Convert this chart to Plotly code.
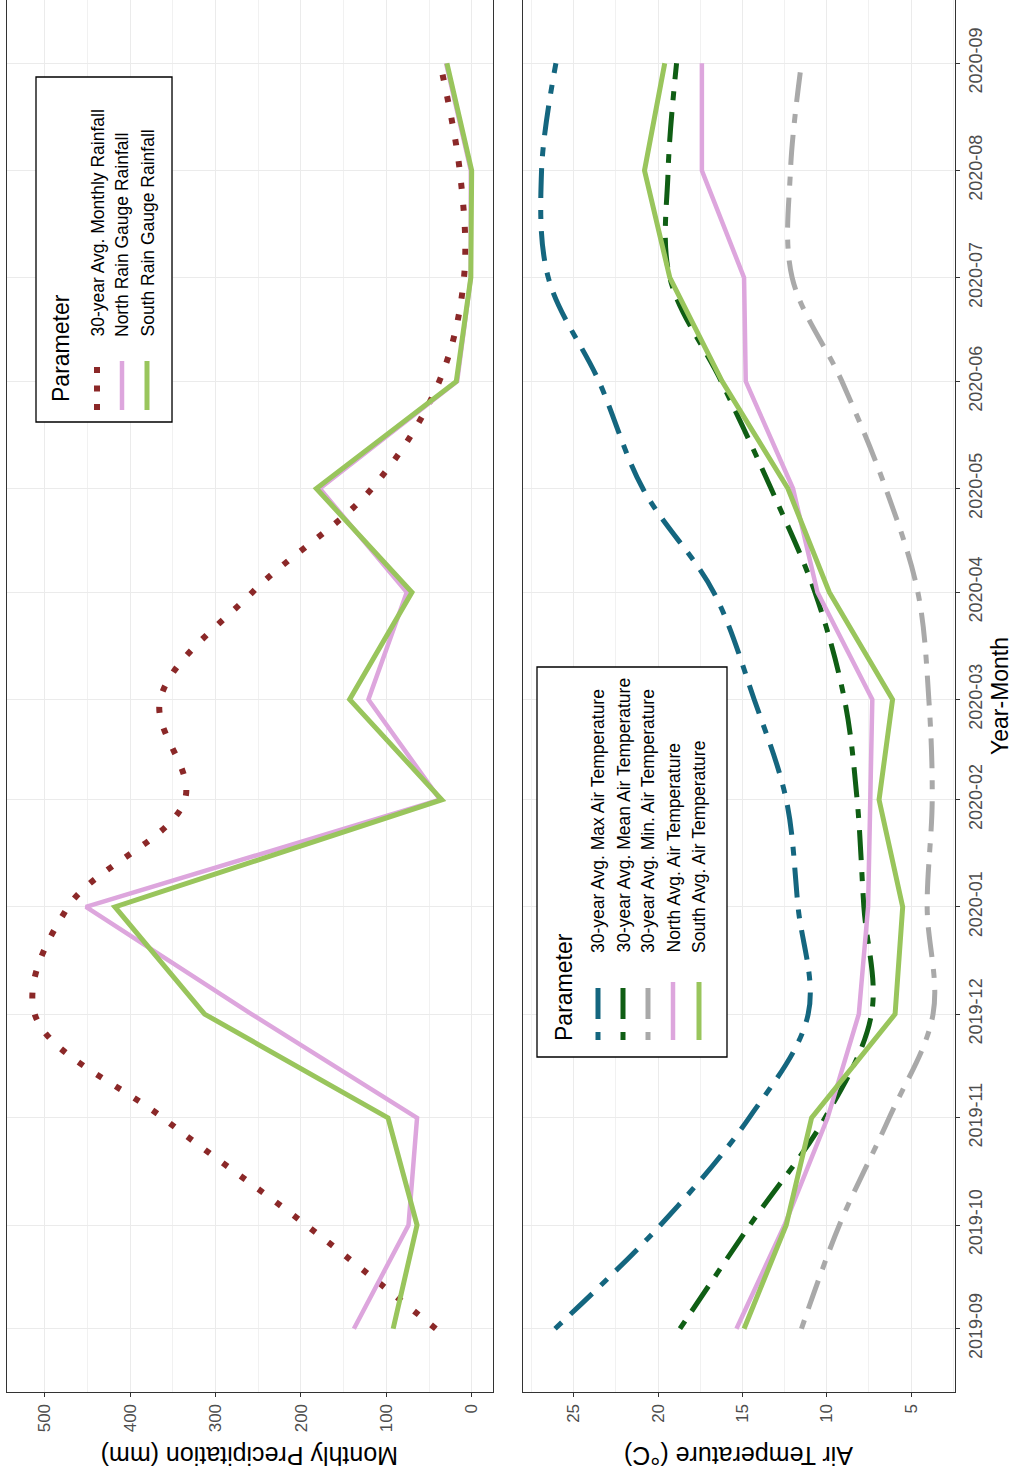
import datetime as dt

import plotly.graph_objects as go

# ---- data -------------------------------------------------------------
months = [
    "2019-09-01", "2019-10-01", "2019-11-01", "2019-12-01", "2020-01-01",
    "2020-02-01", "2020-03-01", "2020-04-01", "2020-05-01", "2020-06-01",
    "2020-07-01", "2020-08-01", "2020-09-01",
]

# monthly precipitation (mm)
rain_30yr = [42, 194, 362, 512, 473, 336, 365, 257, 117, 38, 9, 14, 37]
rain_north = [138, 74, 64, 258, 452, 37, 121, 76, 178, 17, 1, 1, 30]
rain_south = [92, 64, 98, 313, 418, 35, 143, 70, 182, 18, 1, 0, 29]

# air temperature (deg C)
tmax_30yr = [26.1, 19.85, 14.6, 11.1, 11.7, 12.4, 14.3, 16.7, 20.9, 23.5, 26.5, 26.9, 26.05]
tmean_30yr = [18.7, 14.55, 10.1, 7.35, 7.8, 8.2, 8.95, 10.7, 13.3, 16.25, 19.3, 19.4, 18.9]
tmin_30yr = [11.5, 9.25, 6.3, 3.7, 4.05, 3.75, 3.95, 4.6, 6.5, 9.1, 12.05, 12.15, 11.5]
temp_north = [15.35, 12.5, 9.95, 8.1, 7.55, 7.4, 7.3, 10.55, 12.0, 14.8, 14.9, 17.4, 17.4]
temp_south = [14.9, 12.4, 10.9, 5.95, 5.5, 6.9, 6.1, 9.85, 12.3, 16.2, 19.3, 20.8, 19.6]

rain_names = [
    "30-year Avg. Monthly Rainfall",
    "North Rain Gauge Rainfall",
    "South Rain Gauge Rainfall",
]
temp_names = [
    "30-year Avg. Max Air Temperature",
    "30-year Avg. Mean Air Temperature",
    "30-year Avg. Min. Air Temperature",
    "North Avg. Air Temperature",
    "South Avg. Air Temperature",
]

# ---- styling ----------------------------------------------------------
W, H = 1015, 1476
FONT = "Liberation Sans, Arial, sans-serif"
BROWN = "#8B2828"
PLUM = "#DDA6DD"
LGREEN = "#99C55C"
TEAL = "#14667F"
DGREEN = "#0F5E14"
GREY = "#A9A9A9"
DOTDASH = "9px,12px,30px,12px"
DOTTED = "6px,16px"


def px(x):
    return x / W


def py(y):
    return 1 - y / H


fig = go.Figure()

# precipitation panel (left)
rain_styles = [
    (rain_30yr, BROWN, 6, DOTTED, "spline"),
    (rain_north, PLUM, 4.5, "solid", "linear"),
    (rain_south, LGREEN, 5, "solid", "linear"),
]
for (vals, col, w, dash, shape), name in zip(rain_styles, rain_names):
    fig.add_trace(go.Scatter(
        x=vals, y=months, name=name, mode="lines",
        line=dict(color=col, width=w, dash=dash, shape=shape),
        xaxis="x", yaxis="y", showlegend=False,
    ))

# temperature panel (right)
temp_styles = [
    (tmax_30yr, TEAL, 5, DOTDASH, "spline"),
    (tmean_30yr, DGREEN, 5, DOTDASH, "spline"),
    (tmin_30yr, GREY, 5, DOTDASH, "spline"),
    (temp_north, PLUM, 4.5, "solid", "linear"),
    (temp_south, LGREEN, 5, "solid", "linear"),
]
for (vals, col, w, dash, shape), name in zip(temp_styles, temp_names):
    fig.add_trace(go.Scatter(
        x=vals, y=months, name=name, mode="lines",
        line=dict(color=col, width=w, dash=dash, shape=shape),
        xaxis="x2", yaxis="y2", showlegend=False,
    ))

# date range with 5% padding on both ends
d0 = dt.datetime.fromisoformat(months[0])
d1 = dt.datetime.fromisoformat(months[-1])
pad = (d1 - d0) * 0.05
date_range = [(d0 - pad).isoformat(), (d1 + pad).isoformat()]

frame = dict(showline=True, mirror=True, linecolor="#333333", linewidth=1.3,
             zeroline=False, showgrid=True, gridcolor="#EBEBEB", gridwidth=1.1)
tickmarks = dict(ticks="outside", ticklen=4, tickwidth=1.1, tickcolor="#333333")
value_font = dict(family=FONT, size=17, color="#4D4D4D")
date_font = dict(family=FONT, size=18, color="#4D4D4D")

fig.update_layout(
    width=W, height=H,
    margin=dict(l=0, r=0, t=0, b=0),
    paper_bgcolor="white", plot_bgcolor="white",
    font=dict(family=FONT),
    xaxis=dict(domain=[px(7), px(493)], anchor="y", range=[544.5, -25],
               tickvals=[0, 100, 200, 300, 400, 500], tickangle=-90,
               tickfont=value_font,
               minor=dict(dtick=50, tick0=0, showgrid=True,
                          gridcolor="#F1F1F1", gridwidth=0.7),
               **frame, **tickmarks),
    xaxis2=dict(domain=[px(523), px(955)], anchor="y2", range=[28.0, 2.4],
                tickvals=[5, 10, 15, 20, 25], tickangle=-90,
                tickfont=value_font,
                minor=dict(dtick=2.5, tick0=0, showgrid=True,
                           gridcolor="#F1F1F1", gridwidth=0.7),
                **frame, **tickmarks),
    yaxis=dict(domain=[py(1392), 1.0], anchor="x", type="date",
               range=date_range, tickvals=months, showticklabels=False,
               ticks="", **frame),
    yaxis2=dict(domain=[py(1392), 1.0], anchor="x2", type="date",
                range=date_range, tickvals=months, tickformat="%Y-%m",
                side="right", tickangle=-90, tickfont=date_font,
                **frame, **tickmarks),
)

# ---- axis titles ------------------------------------------------------
title_font = dict(family=FONT, size=25, color="black")
annotations = [
    dict(text="Monthly Precipitation (mm)", x=px(250), y=py(1456),
         textangle=180, font=title_font),
    dict(text="Air Temperature (°C)", x=px(739), y=py(1456),
         textangle=180, font=title_font),
    dict(text="Year-Month", x=px(1000), y=py(696),
         textangle=-90, font=dict(family=FONT, size=23, color="black")),
]
for a in annotations:
    a.update(xref="paper", yref="paper", showarrow=False,
             xanchor="center", yanchor="middle")

shapes = []


# ---- legends (drawn in the rotated orientation of the panels) ---------
def add_legend(box, title_x, title_bottom, rows, text_bottom, key_bottom):
    x0, y0, x1, y1 = box
    shapes.append(dict(type="rect", xref="paper", yref="paper",
                       x0=px(x0), x1=px(x1), y0=py(y1), y1=py(y0),
                       line=dict(color="black", width=1.3),
                       fillcolor="white", layer="above"))
    annotations.append(dict(
        text="Parameter", x=px(title_x), y=py(title_bottom),
        xref="paper", yref="paper", showarrow=False, textangle=-90,
        xanchor="center", yanchor="bottom",
        font=dict(family=FONT, size=23, color="black")))
    for xc, label, col, w, dash, ktop in rows:
        shapes.append(dict(type="line", xref="paper", yref="paper",
                           x0=px(xc), x1=px(xc), y0=py(key_bottom), y1=py(ktop),
                           line=dict(color=col, width=w, dash=dash),
                           layer="above"))
        annotations.append(dict(
            text=label, x=px(xc), y=py(text_bottom),
            xref="paper", yref="paper", showarrow=False, textangle=-90,
            xanchor="center", yanchor="bottom",
            font=dict(family=FONT, size=17.5, color="black")))


add_legend(
    box=(36, 77, 172, 422), title_x=61, title_bottom=404,
    rows=[
        (97, rain_names[0], BROWN, 6, "6px,12.5px", 362),
        (122, rain_names[1], PLUM, 4.5, "solid", 361),
        (147, rain_names[2], LGREEN, 5, "solid", 361),
    ],
    text_bottom=339, key_bottom=410,
)

add_legend(
    box=(537, 667, 727, 1057), title_x=564, title_bottom=1043,
    rows=[
        (598, temp_names[0], TEAL, 5, "8px,13px,31px,12px", 988),
        (623, temp_names[1], DGREEN, 5, "8px,13px,31px,12px", 988),
        (648, temp_names[2], GREY, 5, "8px,13px,31px,12px", 988),
        (673, temp_names[3], PLUM, 4.5, "solid", 982),
        (699, temp_names[4], LGREEN, 5, "solid", 982),
    ],
    text_bottom=955, key_bottom=1040,
)

fig.update_layout(annotations=annotations, shapes=shapes)

fig.write_html("out.html")
